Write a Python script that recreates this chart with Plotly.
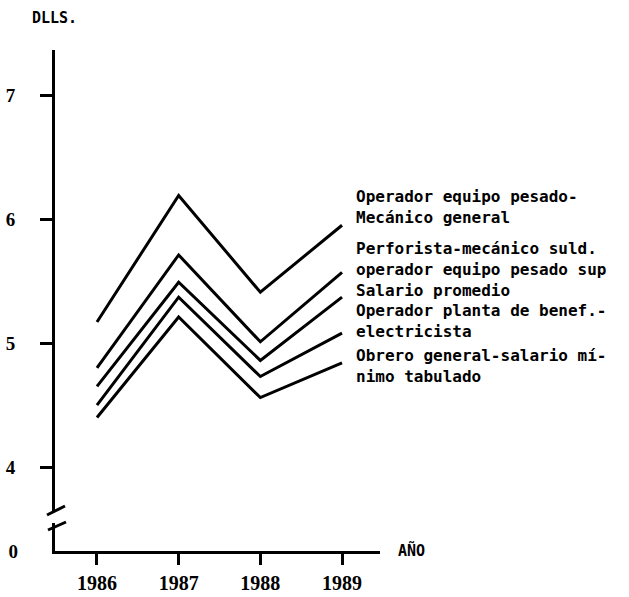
import plotly.graph_objects as go

years = [1986, 1987, 1988, 1989]
operador_mecanico = [5.17, 6.19, 5.41, 5.95]
perforista = [4.80, 5.71, 5.01, 5.57]
salario_promedio = [4.65, 5.49, 4.86, 5.37]
operador_planta = [4.50, 5.37, 4.73, 5.08]
obrero_general = [4.40, 5.21, 4.56, 4.84]
series = [operador_mecanico, perforista, salario_promedio, operador_planta, obrero_general]

label_groups = [
    ["Operador equipo pesado-", "Mecánico general"],
    ["Perforista-mecánico suld.", "operador equipo pesado sup", "Salario promedio",
     "Operador planta de benef.-", "electricista"],
    ["Obrero general-salario mí-", "nimo tabulado"],
]
label_group_top = [186, 238, 345]

y_ticks = [4, 5, 6, 7]
y_ticktext = ["4", "5", "6", "7"]
axis_floor = 3.323  # value shown as "0" at the broken axis origin

W, H = 629, 597
L, R, T, B = 55, 249, 50, 46
pw, ph = W - L - R, H - T - B

def px(x):
    return (x - L) / pw

def py(y):
    return (H - B - y) / ph

fig = go.Figure()
for s in series:
    fig.add_trace(go.Scatter(x=years, y=s, mode="lines",
                             line=dict(color="black", width=3),
                             showlegend=False, hoverinfo="skip"))
fig.add_trace(go.Scatter(x=[years[0]], y=[axis_floor], yaxis="y2", mode="none",
                         showlegend=False, hoverinfo="skip"))

mono = "DejaVu Sans Mono"
serif = "Liberation Serif"

annotations = []
for grp, top in zip(label_groups, label_group_top):
    annotations.append(dict(text="<br>".join(grp), xref="paper", yref="paper", x=px(355), y=py(top),
                            xanchor="left", yanchor="top", align="left", showarrow=False,
                            borderpad=0,
                            font=dict(family=mono, size=16, color="black", weight="bold")))
annotations.append(dict(text="DLLS.", xref="paper", yref="paper", x=px(30), y=py(18),
                        xanchor="left", yanchor="middle", showarrow=False,
                        font=dict(family=mono, size=15, color="black", weight="bold")))
annotations.append(dict(text="AÑO", xref="paper", yref="paper", x=px(396), y=py(550),
                        xanchor="left", yanchor="middle", showarrow=False,
                        font=dict(family=mono, size=15, color="black", weight="bold")))

shapes = [
    dict(type="rect", xref="paper", yref="paper", x0=px(50), x1=px(60), y0=py(523), y1=py(511),
         fillcolor="white", line=dict(width=0), layer="above"),
    dict(type="line", xref="paper", yref="paper", x0=px(47), y0=py(515), x1=px(65), y1=py(506),
         line=dict(color="black", width=3), layer="above"),
    dict(type="line", xref="paper", yref="paper", x0=px(48), y0=py(530), x1=px(66), y1=py(522),
         line=dict(color="black", width=3), layer="above"),
]

fig.update_layout(
    width=W, height=H,
    margin=dict(l=L, r=R, t=T, b=B, pad=0, autoexpand=False),
    paper_bgcolor="white", plot_bgcolor="white",
    xaxis=dict(range=[1985.486, 1989.465], tickvals=years, ticktext=[str(y) for y in years],
               showgrid=False, zeroline=False, showline=True, linecolor="black", linewidth=3,
               ticks="outside", ticklen=11, tickwidth=3, tickcolor="black", automargin=False,
               tickfont=dict(family=serif, size=20, color="black", weight="bold"),
               ticklabelstandoff=1),
    yaxis=dict(range=[axis_floor, 7.363], tickvals=y_ticks, ticktext=y_ticktext,
               showgrid=False, zeroline=False, showline=True, linecolor="black", linewidth=3,
               ticks="outside", ticklen=12, tickwidth=3, tickcolor="black", automargin=False,
               tickfont=dict(family=serif, size=19, color="black", weight="bold"),
               ticklabelstandoff=21),
    yaxis2=dict(range=[axis_floor, 7.363], overlaying="y", side="left", tickvals=[axis_floor],
                ticktext=["0"], showgrid=False, zeroline=False, showline=False, ticks="",
                automargin=False,
                tickfont=dict(family=serif, size=19, color="black", weight="bold"),
                ticklabelstandoff=36),
    annotations=annotations,
    shapes=shapes,
)

fig.write_html("out.html", config={"displayModeBar": False},
               post_script="document.body.style.margin='0';document.body.style.overflow='hidden';")
